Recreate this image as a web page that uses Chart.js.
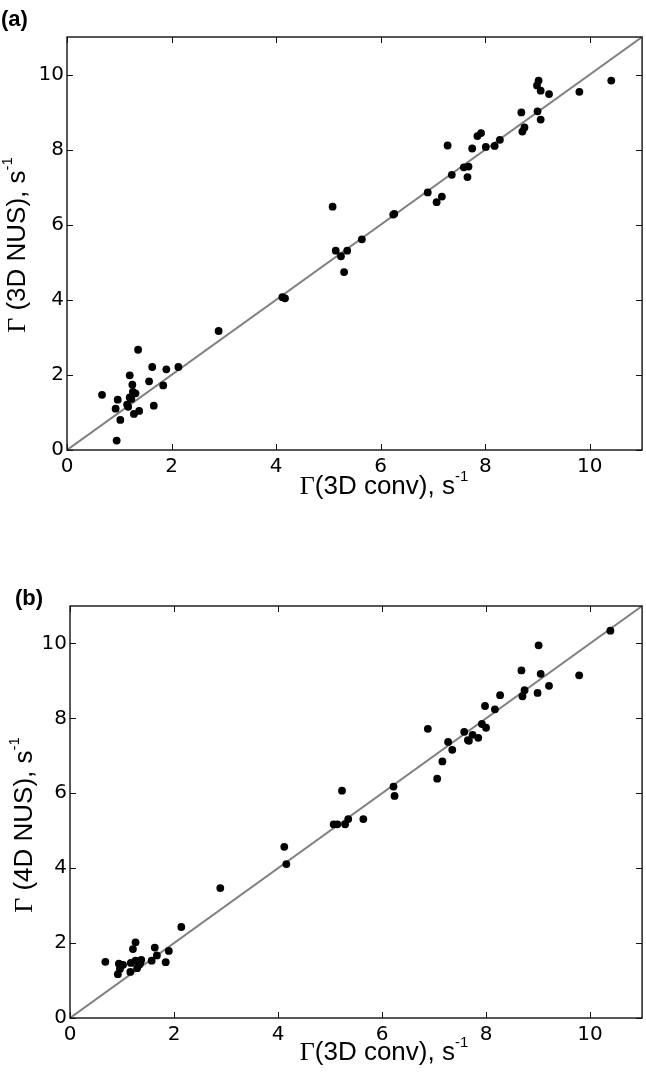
<!DOCTYPE html>
<html>
<head>
<meta charset="utf-8">
<script src="https://cdn.jsdelivr.net/npm/chart.js@4.4.1/dist/chart.umd.min.js"></script>
<style>
  html, body { margin: 0; padding: 0; background: #fff; }
  #wrap { position: relative; width: 646px; height: 1075px; overflow: hidden; }
  canvas { position: absolute; left: 0; }
</style>
</head>
<body>
<div id="wrap">
  <canvas id="chartA" width="646" height="530" style="top:0px"></canvas>
  <canvas id="chartB" width="646" height="545" style="top:530px"></canvas>
</div>
<script>
// panel (a): 3D conv vs 3D NUS
const convA = [0.67, 0.97, 0.93, 0.95, 1.02, 1.15, 1.17, 1.20, 1.20, 1.25, 1.26, 1.23, 1.31, 1.28, 1.38,
  1.36, 1.63, 1.57, 1.66, 1.84, 1.90, 2.13, 2.90, 4.12, 4.17,
  5.08, 5.14, 5.24, 5.36, 5.30, 5.64, 6.24, 6.26, 6.90, 7.07, 7.17, 7.28, 7.36, 7.59, 7.68, 7.66,
  7.75, 7.85, 7.92, 8.01, 8.18, 8.28, 8.69, 8.71, 8.75, 9.00, 9.06, 9.02, 8.99, 9.06, 9.22, 9.80, 10.41];
const nusA = [1.47, 1.34, 1.10, 0.25, 0.80, 1.21, 1.15, 1.99, 1.40, 1.74, 1.55, 1.36, 1.51, 0.96, 1.04,
  2.67, 2.21, 1.83, 1.18, 1.72, 2.15, 2.21, 3.17, 4.07, 4.04,
  6.48, 5.31, 5.16, 5.31, 4.74, 5.61, 6.27, 6.29, 6.86, 6.60, 6.75, 8.11, 7.33, 7.53, 7.55, 7.27,
  8.03, 8.36, 8.44, 8.07, 8.10, 8.26, 8.99, 8.48, 8.59, 9.02, 8.80, 9.84, 9.71, 9.57, 9.48, 9.54, 9.84];

// panel (b): 3D conv vs 4D NUS
const convB = [0.68, 0.94, 0.96, 0.92, 1.02, 1.16, 1.17, 1.21, 1.26, 1.26, 1.29, 1.33, 1.37, 1.35, 1.57,
  1.63, 1.67, 1.84, 1.90, 2.14, 2.89, 4.12, 4.16,
  5.23, 5.07, 5.14, 5.29, 5.35, 5.64, 6.22, 6.24, 6.88, 7.06, 7.16, 7.27, 7.35, 7.58, 7.65, 7.67,
  7.74, 7.85, 7.92, 8.00, 7.98, 8.17, 8.27, 8.68, 8.70, 8.74, 8.99, 9.05, 9.01, 9.21, 9.79, 10.39];
const nusB = [1.50, 1.45, 1.31, 1.17, 1.42, 1.23, 1.47, 1.84, 2.02, 1.53, 1.33, 1.42, 1.55, 1.47, 1.53,
  1.88, 1.67, 1.49, 1.79, 2.43, 3.47, 4.57, 4.11,
  6.07, 5.17, 5.17, 5.17, 5.31, 5.31, 6.18, 5.93, 7.72, 6.39, 6.85, 7.37, 7.16, 7.64, 7.42, 7.40,
  7.56, 7.48, 7.85, 7.75, 8.33, 8.24, 8.62, 9.28, 8.59, 8.75, 8.68, 9.19, 9.95, 8.87, 9.15, 10.34];

// y = x reference line
const lineX = [0, 11];
const lineY = [0, 11];

const tickVals = [0, 2, 4, 6, 8, 10];
const axisMin = 0;
const axisMax = 11;

const SANS = '"Liberation Sans", Arial, sans-serif';
const TICKSANS = '"DejaVu Sans", sans-serif';
const SERIF = '"Liberation Serif", "Times New Roman", serif';

function pairs(xs, ys) {
  return xs.map((x, i) => ({ x: x, y: ys[i] }));
}

// mixed-font axis title: serif Gamma, sans text, superscript -1
function drawTitle(ctx, cx, cy, rot, gamma, body) {
  const big = 26, small = 15;
  const parts = [
    { t: gamma, font: big + 'px ' + SERIF, dy: 0 },
    { t: body, font: big + 'px ' + SANS, dy: 0 },
    { t: '-1', font: small + 'px ' + SANS, dy: -10 }
  ];
  let total = 0;
  parts.forEach(p => { ctx.font = p.font; p.w = ctx.measureText(p.t).width; total += p.w; });
  ctx.save();
  ctx.translate(cx, cy);
  ctx.rotate(rot);
  ctx.fillStyle = '#000';
  ctx.textBaseline = 'middle';
  ctx.textAlign = 'left';
  let x = -total / 2;
  parts.forEach(p => {
    ctx.font = p.font;
    ctx.fillText(p.t, x, p.dy);
    x += p.w;
  });
  ctx.restore();
}

// box with inward ticks on all four sides + labels
const framePlugin = {
  id: 'frame',
  afterDatasetsDraw(chart, args, opts) {
    const { ctx, chartArea: a, scales } = chart;
    const len = 6;
    ctx.save();
    ctx.strokeStyle = '#111';
    ctx.lineWidth = 1.4;
    ctx.strokeRect(a.left, a.top, a.right - a.left, a.bottom - a.top);
    ctx.lineWidth = 1;
    ctx.beginPath();
    tickVals.forEach(v => {
      const px = Math.round(scales.x.getPixelForValue(v)) + 0.5;
      ctx.moveTo(px, a.bottom); ctx.lineTo(px, a.bottom - len);
      ctx.moveTo(px, a.top); ctx.lineTo(px, a.top + len);
      const py = Math.round(scales.y.getPixelForValue(v)) + 0.5;
      ctx.moveTo(a.left, py); ctx.lineTo(a.left + len, py);
      ctx.moveTo(a.right, py); ctx.lineTo(a.right - len, py);
    });
    ctx.stroke();
    ctx.restore();

    // panel letter
    ctx.save();
    ctx.fillStyle = '#000';
    ctx.font = 'bold 22px ' + SANS;
    ctx.textBaseline = 'alphabetic';
    ctx.fillText(opts.letter, opts.letterX, opts.letterY);
    ctx.restore();

    drawTitle(ctx, opts.xTitleX, a.bottom + opts.xTitleDy, 0, '\u0393', '(3D conv), s');
    drawTitle(ctx, opts.yTitleX, opts.yTitleY, -Math.PI / 2, '\u0393', ' (' + opts.yName + '), s');
  }
};

function makeChart(id, xs, ys, pad, yWidth, xHeight, frameOpts) {
  const tickFont = { family: TICKSANS, size: 20 };
  return new Chart(document.getElementById(id), {
    type: 'scatter',
    data: {
      datasets: [
        {
          label: 'points',
          data: pairs(xs, ys),
          pointRadius: 3.9,
          pointHoverRadius: 3.9,
          pointBackgroundColor: '#000',
          pointBorderWidth: 0,
          order: 0
        },
        {
          type: 'line',
          label: 'y = x',
          data: pairs(lineX, lineY),
          borderColor: '#808080',
          borderWidth: 2,
          pointRadius: 0,
          fill: false,
          order: 1
        }
      ]
    },
    options: {
      responsive: false,
      animation: false,
      devicePixelRatio: 1,
      layout: { padding: pad },
      plugins: {
        legend: { display: false },
        tooltip: { enabled: false },
        frame: frameOpts
      },
      scales: {
        x: {
          type: 'linear',
          min: axisMin,
          max: axisMax,
          afterBuildTicks: s => { s.ticks = tickVals.map(v => ({ value: v })); },
          afterFit: s => { s.height = xHeight; },
          grid: { display: false, drawTicks: false },
          border: { display: false },
          ticks: { font: tickFont, color: '#000', padding: 5, maxRotation: 0 }
        },
        y: {
          type: 'linear',
          min: axisMin,
          max: axisMax,
          afterBuildTicks: s => { s.ticks = tickVals.map(v => ({ value: v })); },
          afterFit: s => { s.width = yWidth; },
          grid: { display: false, drawTicks: false },
          border: { display: false },
          ticks: { font: tickFont, color: '#000', padding: 3 }
        }
      }
    },
    plugins: [framePlugin]
  });
}

makeChart('chartA', convA, nusA,
  { top: 37, right: 2, left: 0, bottom: 0 }, 67, 530 - 450,
  { letter: '(a)', letterX: 1, letterY: 26, xTitleX: 384, xTitleDy: 37, yTitleX: 18, yTitleY: 245, yName: '3D NUS' });

makeChart('chartB', convB, nusB,
  { top: 76, right: 3, left: 0, bottom: 0 }, 70, 545 - 488,
  { letter: '(b)', letterX: 15, letterY: 75, xTitleX: 384, xTitleDy: 35, yTitleX: 25, yTitleY: 295, yName: '4D NUS' });
</script>
</body>
</html>
